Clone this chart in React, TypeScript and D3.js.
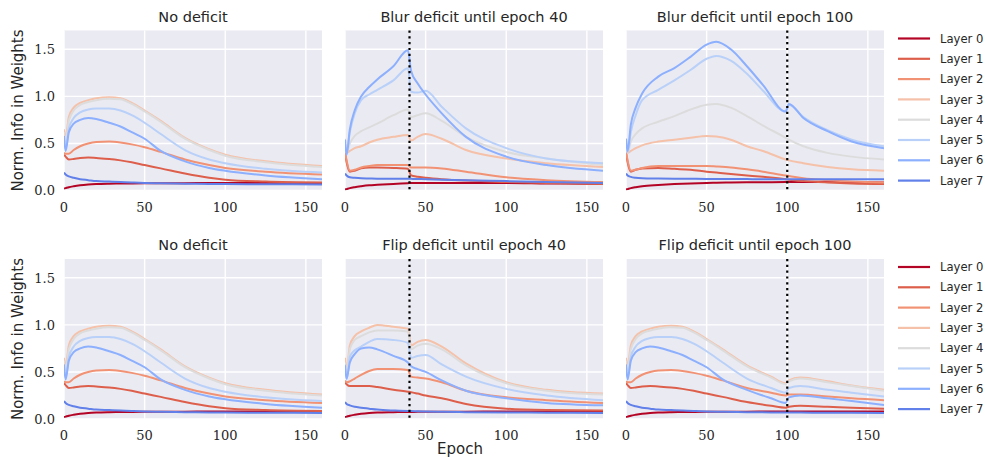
import * as d3 from "d3";

// layer names + coolwarm_r colours
const layers = ["Layer 0", "Layer 1", "Layer 2", "Layer 3", "Layer 4", "Layer 5", "Layer 6", "Layer 7"];
const layerColors = ["#b40426", "#dd5f4b", "#f29274", "#f5c1a9", "#dddcdc", "#b9d0f9", "#8caffe", "#6180e9"];

const xTicks = [0, 50, 100, 150];
const yTicks = [0, 0.5, 1.0, 1.5];

// --- No deficit (used in both rows) ---
const noDefEpochs = [0, 1, 3, 6, 10, 15, 20, 28, 35, 42, 50, 60, 75, 90, 100, 125, 160];
const noDefValues = [
  [0.02, 0.025, 0.035, 0.045, 0.055, 0.063, 0.068, 0.072, 0.074, 0.075, 0.076, 0.077, 0.078, 0.079, 0.08, 0.08, 0.08],
  [0.38, 0.36, 0.33, 0.335, 0.345, 0.35, 0.345, 0.335, 0.32, 0.3, 0.27, 0.235, 0.18, 0.135, 0.115, 0.095, 0.085],
  [0.4, 0.39, 0.39, 0.43, 0.47, 0.5, 0.515, 0.52, 0.51, 0.49, 0.46, 0.41, 0.33, 0.27, 0.24, 0.2, 0.17],
  [0.65, 0.56, 0.78, 0.88, 0.93, 0.96, 0.98, 0.99, 0.98, 0.93, 0.85, 0.74, 0.56, 0.44, 0.38, 0.31, 0.26],
  [0.62, 0.52, 0.74, 0.85, 0.91, 0.94, 0.96, 0.975, 0.97, 0.92, 0.84, 0.73, 0.55, 0.43, 0.37, 0.3, 0.25],
  [0.55, 0.44, 0.66, 0.77, 0.83, 0.86, 0.87, 0.87, 0.85, 0.8, 0.72, 0.6, 0.43, 0.33, 0.29, 0.23, 0.19],
  [0.58, 0.42, 0.62, 0.71, 0.75, 0.77, 0.76, 0.72, 0.68, 0.62, 0.55, 0.42, 0.31, 0.24, 0.21, 0.16, 0.12],
  [0.19, 0.17, 0.15, 0.135, 0.12, 0.11, 0.1, 0.095, 0.09, 0.085, 0.08, 0.077, 0.073, 0.07, 0.068, 0.066, 0.065],
];

// --- Blur deficit until epoch 40 ---
const blur40Epochs = [0, 1, 3, 6, 10, 15, 20, 30, 39, 41, 45, 50, 60, 75, 100, 125, 160];
const blur40Values = [
  [0.01, 0.015, 0.025, 0.035, 0.045, 0.055, 0.06, 0.07, 0.078, 0.08, 0.08, 0.08, 0.08, 0.08, 0.08, 0.075, 0.07],
  [0.4, 0.3, 0.2, 0.21, 0.235, 0.245, 0.245, 0.24, 0.23, 0.16, 0.145, 0.135, 0.12, 0.105, 0.09, 0.08, 0.07],
  [0.42, 0.32, 0.21, 0.22, 0.245, 0.26, 0.27, 0.27, 0.27, 0.245, 0.245, 0.245, 0.235, 0.2, 0.14, 0.11, 0.09],
  [0.5, 0.4, 0.42, 0.45, 0.47, 0.51, 0.54, 0.57, 0.59, 0.53, 0.57, 0.6, 0.55, 0.43, 0.34, 0.29, 0.25],
  [0.55, 0.4, 0.5, 0.58, 0.63, 0.67, 0.71, 0.8, 0.86, 0.78, 0.8, 0.82, 0.74, 0.57, 0.41, 0.34, 0.27],
  [0.5, 0.4, 0.62, 0.82, 0.96, 1.02, 1.07, 1.17, 1.3, 1.05, 1.04, 1.06, 0.89, 0.66, 0.45, 0.34, 0.29],
  [0.54, 0.38, 0.65, 0.85, 1.0, 1.1, 1.18, 1.32, 1.49, 1.27, 1.14, 1.02, 0.82, 0.57, 0.36, 0.27, 0.21],
  [0.18, 0.16, 0.14, 0.135, 0.13, 0.128, 0.126, 0.125, 0.125, 0.124, 0.122, 0.12, 0.115, 0.11, 0.1, 0.09, 0.08],
];

// --- Blur deficit until epoch 100 ---
const blur100Epochs = [0, 1, 3, 6, 10, 20, 30, 40, 50, 56, 65, 75, 85, 99, 101, 110, 125, 140, 160];
const blur100Values = [
  [0.01, 0.015, 0.025, 0.035, 0.045, 0.058, 0.068, 0.075, 0.08, 0.082, 0.085, 0.087, 0.088, 0.09, 0.09, 0.09, 0.09, 0.088, 0.085],
  [0.4, 0.3, 0.2, 0.22, 0.235, 0.24, 0.23, 0.22, 0.2, 0.19, 0.175, 0.16, 0.145, 0.12, 0.115, 0.1, 0.085, 0.075, 0.07],
  [0.42, 0.32, 0.21, 0.22, 0.24, 0.26, 0.26, 0.26, 0.26, 0.255, 0.245, 0.225, 0.2, 0.16, 0.155, 0.13, 0.11, 0.095, 0.085],
  [0.52, 0.4, 0.42, 0.45, 0.48, 0.52, 0.54, 0.56, 0.58, 0.575, 0.54, 0.47, 0.42, 0.33, 0.32, 0.29, 0.25, 0.225, 0.21],
  [0.55, 0.4, 0.52, 0.6, 0.66, 0.73, 0.79, 0.86, 0.91, 0.92, 0.88, 0.79, 0.69, 0.56, 0.54, 0.47, 0.4, 0.36, 0.33],
  [0.55, 0.4, 0.62, 0.8, 0.96, 1.07, 1.17, 1.28, 1.4, 1.43, 1.38, 1.24, 1.06, 0.84, 0.91, 0.78, 0.64, 0.54, 0.47],
  [0.55, 0.42, 0.7, 0.88, 1.03, 1.21, 1.3, 1.42, 1.55, 1.58, 1.5, 1.32, 1.12, 0.84, 0.92, 0.77, 0.63, 0.52, 0.45],
  [0.18, 0.16, 0.145, 0.135, 0.13, 0.127, 0.125, 0.124, 0.123, 0.122, 0.122, 0.121, 0.12, 0.12, 0.12, 0.12, 0.12, 0.12, 0.12],
];

// --- Flip deficit until epoch 40 ---
const flip40Epochs = [0, 1, 3, 6, 10, 15, 20, 30, 39, 41, 45, 50, 60, 75, 100, 125, 160];
const flip40Values = [
  [0.02, 0.025, 0.035, 0.045, 0.055, 0.063, 0.068, 0.072, 0.075, 0.075, 0.076, 0.076, 0.077, 0.078, 0.08, 0.08, 0.08],
  [0.39, 0.37, 0.35, 0.35, 0.35, 0.35, 0.34, 0.31, 0.29, 0.285, 0.27, 0.25, 0.22, 0.16, 0.11, 0.095, 0.09],
  [0.41, 0.39, 0.4, 0.43, 0.47, 0.51, 0.53, 0.53, 0.52, 0.45, 0.44, 0.43, 0.39, 0.3, 0.23, 0.2, 0.17],
  [0.65, 0.52, 0.78, 0.88, 0.93, 0.97, 1.0, 0.98, 0.96, 0.78, 0.82, 0.84, 0.77, 0.59, 0.39, 0.31, 0.27],
  [0.6, 0.5, 0.74, 0.84, 0.88, 0.92, 0.94, 0.94, 0.93, 0.74, 0.78, 0.8, 0.74, 0.57, 0.38, 0.3, 0.26],
  [0.58, 0.42, 0.66, 0.73, 0.77, 0.82, 0.85, 0.84, 0.81, 0.65, 0.67, 0.68, 0.58, 0.45, 0.32, 0.25, 0.2],
  [0.57, 0.43, 0.6, 0.69, 0.75, 0.76, 0.74, 0.67, 0.6, 0.56, 0.53, 0.5, 0.41, 0.3, 0.22, 0.17, 0.145],
  [0.18, 0.16, 0.145, 0.13, 0.12, 0.11, 0.1, 0.09, 0.085, 0.085, 0.082, 0.08, 0.077, 0.073, 0.07, 0.067, 0.065],
];

// --- Flip deficit until epoch 100 ---
const flip100Epochs = [0, 1, 3, 6, 10, 15, 20, 28, 35, 42, 50, 60, 75, 90, 99, 101, 108, 125, 140, 160];
const flip100Values = [
  [0.02, 0.025, 0.035, 0.045, 0.055, 0.063, 0.068, 0.072, 0.074, 0.075, 0.076, 0.077, 0.078, 0.079, 0.08, 0.08, 0.08, 0.08, 0.08, 0.08],
  [0.38, 0.36, 0.33, 0.335, 0.345, 0.35, 0.345, 0.335, 0.32, 0.3, 0.27, 0.235, 0.18, 0.14, 0.12, 0.13, 0.14, 0.13, 0.12, 0.11],
  [0.4, 0.39, 0.39, 0.43, 0.47, 0.5, 0.515, 0.52, 0.51, 0.49, 0.46, 0.41, 0.33, 0.28, 0.25, 0.26, 0.26, 0.24, 0.22, 0.2],
  [0.65, 0.56, 0.78, 0.88, 0.93, 0.96, 0.98, 0.99, 0.98, 0.93, 0.85, 0.74, 0.57, 0.45, 0.38, 0.41, 0.44, 0.4, 0.355, 0.31],
  [0.62, 0.52, 0.74, 0.85, 0.91, 0.94, 0.96, 0.975, 0.97, 0.92, 0.84, 0.73, 0.56, 0.44, 0.37, 0.4, 0.43, 0.39, 0.35, 0.3],
  [0.55, 0.44, 0.66, 0.77, 0.83, 0.86, 0.87, 0.87, 0.85, 0.8, 0.72, 0.6, 0.43, 0.33, 0.28, 0.33, 0.35, 0.31, 0.28, 0.24],
  [0.58, 0.42, 0.62, 0.71, 0.75, 0.77, 0.76, 0.72, 0.68, 0.62, 0.55, 0.42, 0.31, 0.22, 0.17, 0.23, 0.25, 0.22, 0.19, 0.15],
  [0.19, 0.17, 0.15, 0.135, 0.12, 0.11, 0.1, 0.095, 0.09, 0.085, 0.08, 0.077, 0.073, 0.07, 0.068, 0.068, 0.068, 0.067, 0.066, 0.065],
];

const panels = [
  { title: "No deficit", epochs: noDefEpochs, values: noDefValues, cutoff: null, row: 0, col: 0 },
  { title: "Blur deficit until epoch 40", epochs: blur40Epochs, values: blur40Values, cutoff: 40, row: 0, col: 1 },
  { title: "Blur deficit until epoch 100", epochs: blur100Epochs, values: blur100Values, cutoff: 100, row: 0, col: 2 },
  { title: "No deficit", epochs: noDefEpochs, values: noDefValues, cutoff: null, row: 1, col: 0 },
  { title: "Flip deficit until epoch 40", epochs: flip40Epochs, values: flip40Values, cutoff: 40, row: 1, col: 1 },
  { title: "Flip deficit until epoch 100", epochs: flip100Epochs, values: flip100Values, cutoff: 100, row: 1, col: 2 },
];

const W = 985;
const H = 457;
const pw = 258;
const ph = 160;
const colX = [64, 345, 626];
const rowY = [30.5, 259];

const sans = "'DejaVu Sans', sans-serif";
const serif = "'DejaVu Serif', serif";

function Panel({ p }) {
  const x = d3.scaleLinear().domain([0, 160]).range([0, pw]);
  const y = d3.scaleLinear().domain([0, 1.7]).range([ph, 0]);
  const line = d3
    .line()
    .x((d) => x(d[0]))
    .y((d) => y(d[1]))
    .curve(d3.curveMonotoneX);
  const id = `clip-${p.row}-${p.col}`;
  return (
    <g transform={`translate(${colX[p.col]},${rowY[p.row]})`}>
      <defs>
        <clipPath id={id}>
          <rect width={pw} height={ph} />
        </clipPath>
      </defs>
      <rect width={pw} height={ph} fill="#EAEAF2" />
      {xTicks.map((t) => (
        <line key={"gx" + t} x1={x(t)} x2={x(t)} y1={0} y2={ph} stroke="#fff" strokeWidth={1.4} />
      ))}
      {yTicks.map((t) => (
        <line key={"gy" + t} x1={0} x2={pw} y1={y(t)} y2={y(t)} stroke="#fff" strokeWidth={1.4} />
      ))}
      <g clipPath={`url(#${id})`}>
        {p.values.map((vals, i) => (
          <path
            key={i}
            d={line(p.epochs.map((e, j) => [e, vals[j]]))}
            fill="none"
            stroke={layerColors[i]}
            strokeWidth={2}
            strokeLinejoin="round"
          />
        ))}
      </g>
      {p.cutoff != null && (
        <line
          x1={x(p.cutoff)}
          x2={x(p.cutoff)}
          y1={0}
          y2={ph}
          stroke="#000"
          strokeWidth={2.2}
          strokeDasharray="2.2,3.6"
        />
      )}
      <text x={pw / 2} y={-9} textAnchor="middle" fontFamily={sans} fontSize={14.5} fill="#262626">
        {p.title}
      </text>
      {xTicks.map((t) => (
        <text key={"tx" + t} x={x(t)} y={ph + 21} textAnchor="middle" fontFamily={serif} fontSize={13} fill="#262626">
          {t}
        </text>
      ))}
      {p.col === 0 &&
        yTicks.map((t) => (
          <text
            key={"ty" + t}
            x={-9}
            y={y(t)}
            dy="0.36em"
            textAnchor="end"
            fontFamily={serif}
            fontSize={13}
            fill="#262626"
          >
            {t.toFixed(1)}
          </text>
        ))}
      {p.col === 0 && (
        <text
          transform={`translate(-41,${ph / 2}) rotate(-90)`}
          textAnchor="middle"
          fontFamily={sans}
          fontSize={15}
          fill="#262626"
        >
          Norm. Info in Weights
        </text>
      )}
    </g>
  );
}

function Legend({ top }) {
  return (
    <g transform={`translate(898,${top})`}>
      {layers.map((name, i) => (
        <g key={name} transform={`translate(0,${i * 20.3})`}>
          <line x1={0} x2={32} y1={0} y2={0} stroke={layerColors[i]} strokeWidth={2.2} />
          <text x={42} y={0} dy="0.36em" fontFamily={sans} fontSize={11.6} fill="#262626">
            {name}
          </text>
        </g>
      ))}
    </g>
  );
}

export default function App() {
  return (
    <svg width={W} height={H} style={{ position: "absolute", left: 0, top: 0, background: "#fff" }}>
      {panels.map((p, i) => (
        <Panel key={i} p={p} />
      ))}
      <Legend top={38.5} />
      <Legend top={267} />
      <text x={460} y={454} textAnchor="middle" fontFamily={sans} fontSize={15} fill="#262626">
        Epoch
      </text>
    </svg>
  );
}
